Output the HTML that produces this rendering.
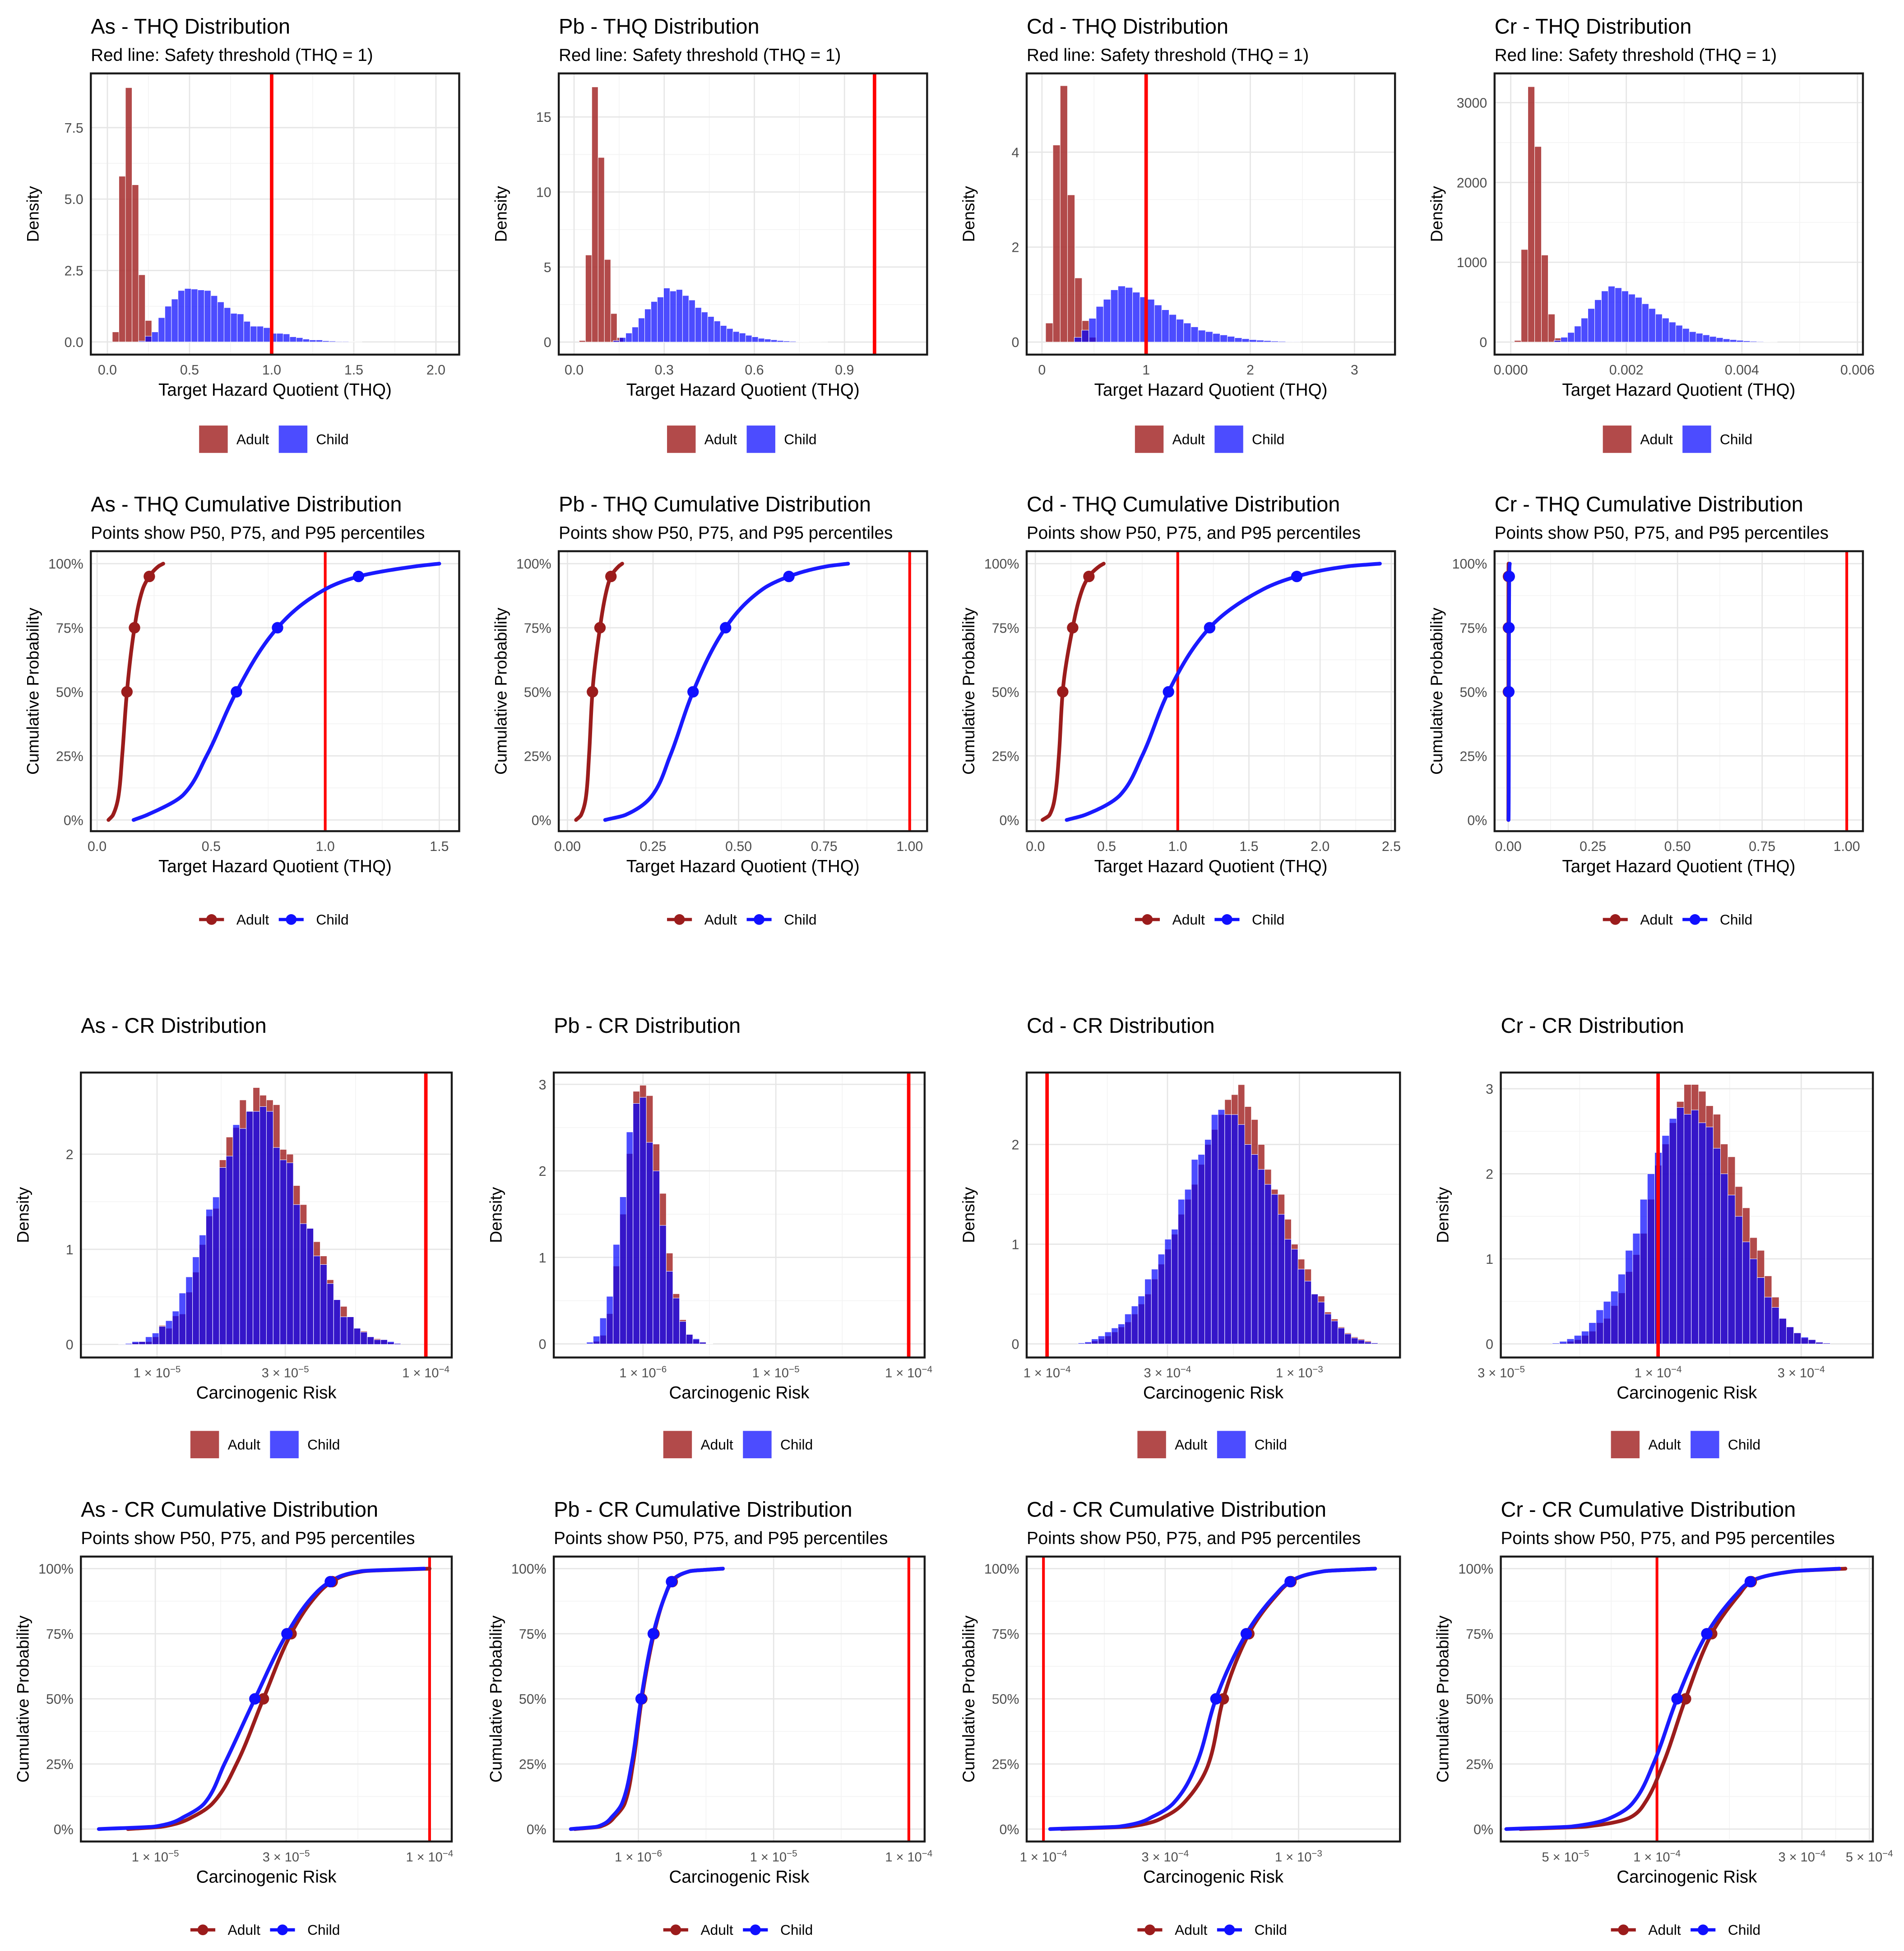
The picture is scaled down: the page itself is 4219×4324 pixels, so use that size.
<!DOCTYPE html>
<html><head><meta charset="utf-8"><style>
html,body{margin:0;padding:0;background:#fff;}
svg{display:block;font-family:"Liberation Sans",Arial,sans-serif;}
</style></head><body>
<svg id="chart" width="4219" height="4324" viewBox="0 0 1530 1568" preserveAspectRatio="none" xmlns="http://www.w3.org/2000/svg"></svg>
<script>
// ---------- Data ----------
const asThqBin = [0.03, 0.04];
const asThqAdult = [0.35,5.8,8.9,5.5,2.35,0.75];
const asThqChildBin = [0.19, 0.04];
const asThqChild = [0.03,0.2,0.35,0.85,1.25,1.5,1.8,1.87,1.85,1.82,1.8,1.62,1.4,1.2,1.0,0.98,0.72,0.55,0.55,0.5,0.3,0.3,0.28,0.18,0.15,0.1,0.07,0.07,0.04,0.03,0.02,0.02,0.01,0.005];
const pbThqBin = [0.017, 0.021];
const pbThqAdult = [0.1,5.8,17.0,12.3,5.5,1.9,0.3];
const pbThqChildBin = [0.13, 0.021];
const pbThqChild = [0.1,0.3,0.6,1.0,1.6,2.2,2.7,3.0,3.6,3.4,3.5,3.1,2.8,2.3,2.0,1.7,1.4,1.1,0.9,0.7,0.6,0.45,0.35,0.25,0.2,0.15,0.1,0.07,0.05,0.03,0.02,0.01,0.01,0.005];
const cdThqBin = [0.035, 0.07];
const cdThqAdult = [0.4,4.15,5.4,3.1,1.35,0.45,0.1];
const cdThqChildBin = [0.31, 0.07];
const cdThqChild = [0.1,0.25,0.5,0.75,0.9,1.1,1.18,1.15,1.05,0.95,0.9,0.78,0.68,0.58,0.48,0.4,0.32,0.25,0.22,0.18,0.15,0.12,0.09,0.07,0.05,0.04,0.03,0.02,0.015,0.01,0.01];
const crThqBin = [0.0000625, 0.000117];
const crThqAdult = [20,1160,3200,2450,1090,350,50];
const crThqChildBin = [0.00075, 0.000117];
const crThqChild = [20,60,120,200,300,420,530,640,700,680,640,600,560,480,420,350,300,250,210,170,130,110,90,70,55,40,30,22,15,10,7,5,3];

const thqProbGrid = [0,0.02,0.1,0.25,0.5,0.75,0.9,0.95,0.99,1];
const asThqCdfAdult = [0.05,0.07,0.095,0.11,0.131,0.164,0.2,0.229,0.27,0.29];
const asThqCdfChild = [0.16,0.22,0.38,0.48,0.611,0.791,1.0,1.146,1.4,1.5];
const pbThqCdfAdult = [0.025,0.04,0.055,0.063,0.073,0.095,0.115,0.127,0.15,0.16];
const pbThqCdfChild = [0.11,0.17,0.25,0.3,0.367,0.462,0.57,0.647,0.76,0.82];
const cdThqCdfAdult = [0.05,0.1,0.14,0.165,0.192,0.262,0.33,0.376,0.45,0.48];
const cdThqCdfChild = [0.22,0.35,0.6,0.75,0.935,1.224,1.6,1.836,2.2,2.42];
const crThqCdfAdult = [0.0002,0.00028,0.00035,0.0004,0.00045,0.00052,0.0006,0.00066,0.0008,0.0009];
const crThqCdfChild = [0.0008,0.001,0.0013,0.0015,0.0017,0.0021,0.0026,0.0029,0.0036,0.0045];
const pctProbs = [0.5,0.75,0.95];
const asThqPctAdult = [0.131,0.164,0.229];
const asThqPctChild = [0.611,0.791,1.146];
const pbThqPctAdult = [0.073,0.095,0.127];
const pbThqPctChild = [0.367,0.462,0.647];
const cdThqPctAdult = [0.192,0.262,0.376];
const cdThqPctChild = [0.935,1.224,1.836];
const crThqPctAdult = [0.00045,0.00052,0.00066];
const crThqPctChild = [0.0017,0.0021,0.0029];

const asCrBin = [-5.143, 0.025];
const asCrChild = [0.005,0.01,0.03,0.03,0.08,0.12,0.19,0.25,0.35,0.54,0.71,0.92,1.15,1.42,1.55,1.86,1.98,2.31,2.27,2.45,2.45,2.5,2.45,2.07,1.94,1.91,1.47,1.27,1.22,0.93,0.84,0.64,0.47,0.29,0.29,0.17,0.13,0.08,0.05,0.05,0.03,0.01];
const asCrAdult = [0,0.005,0.02,0.03,0.03,0.08,0.2,0.17,0.3,0.32,0.55,0.76,1.05,1.35,1.43,1.94,2.18,2.28,2.57,2.45,2.7,2.62,2.57,2.52,2.05,2.0,1.67,1.47,1.22,1.08,0.93,0.68,0.47,0.4,0.29,0.17,0.14,0.08,0.06,0.05,0.02,0.01];
const pbCrBin = [-6.425, 0.05];
const pbCrChild = [0.02,0.09,0.3,0.55,1.15,1.7,2.45,2.78,2.85,2.33,2.0,1.37,0.84,0.53,0.26,0.11,0.06,0.02,0.005];
const pbCrAdult = [0.0,0.03,0.1,0.35,0.9,1.5,2.2,2.92,2.99,2.87,2.31,1.74,1.05,0.58,0.28,0.11,0.05,0.02,0.005];
const cdCrBin = [-3.877, 0.0264];
const cdCrChild = [0.01,0.02,0.05,0.08,0.12,0.16,0.2,0.3,0.38,0.48,0.65,0.75,0.9,1.05,1.15,1.45,1.55,1.85,1.9,2.05,2.3,2.35,2.3,2.3,2.2,2.0,1.9,1.75,1.6,1.5,1.3,1.05,0.95,0.75,0.63,0.5,0.42,0.3,0.23,0.16,0.1,0.06,0.04,0.02,0.01];
const cdCrAdult = [0.0,0.01,0.03,0.05,0.08,0.12,0.17,0.22,0.3,0.4,0.5,0.65,0.8,0.95,1.1,1.3,1.45,1.6,1.8,2.0,2.15,2.3,2.45,2.5,2.6,2.38,2.25,2.0,1.75,1.55,1.5,1.25,1.0,0.85,0.75,0.5,0.48,0.32,0.25,0.17,0.11,0.07,0.05,0.03,0.01];
const crCrBin = [-4.353, 0.0244];
const crCrChild = [0.01,0.03,0.06,0.1,0.15,0.25,0.4,0.5,0.62,0.82,1.1,1.3,1.7,2.0,2.25,2.45,2.65,2.78,2.7,2.75,2.6,2.55,2.3,2.0,1.75,1.5,1.2,1.0,0.78,0.55,0.43,0.3,0.2,0.13,0.08,0.05,0.02,0.01];
const crCrAdult = [0.0,0.01,0.03,0.05,0.1,0.15,0.25,0.3,0.45,0.6,0.85,1.05,1.3,1.7,2.1,2.35,2.6,2.85,3.05,3.05,2.97,2.8,2.7,2.35,2.2,1.85,1.6,1.25,1.1,0.8,0.55,0.3,0.2,0.13,0.07,0.05,0.02,0.01];

const crProbGrid = [0,0.01,0.05,0.1,0.25,0.5,0.75,0.9,0.95,0.99,1];
const asCrCdfChild = [-5.206,-5.0,-4.89,-4.82,-4.748,-4.637,-4.52,-4.42,-4.362,-4.25,-4.02];
const asCrCdfAdult = [-5.1,-4.97,-4.858,-4.79,-4.704,-4.606,-4.505,-4.41,-4.355,-4.24,-4.0];
const pbCrCdfChild = [-6.5,-6.3,-6.19,-6.12,-6.05,-5.98,-5.89,-5.8,-5.755,-5.62,-5.375];
const pbCrCdfAdult = [-6.47,-6.28,-6.17,-6.1,-6.04,-5.975,-5.885,-5.8,-5.75,-5.62,-5.375];
const cdCrCdfChild = [-3.974,-3.7,-3.567,-3.49,-3.4,-3.324,-3.205,-3.09,-3.033,-2.9,-2.70];
const cdCrCdfAdult = [-3.93,-3.66,-3.52,-3.45,-3.353,-3.295,-3.195,-3.085,-3.03,-2.9,-2.70];
const crCrCdfChild = [-4.496,-4.28,-4.14,-4.08,-4.012,-3.934,-3.836,-3.74,-3.693,-3.55,-3.40];
const crCrCdfAdult = [-4.45,-4.23,-4.08,-4.04,-3.98,-3.906,-3.82,-3.73,-3.69,-3.55,-3.38];
const asCrPctAdult = [-4.606,-4.505,-4.355];
const asCrPctChild = [-4.637,-4.52,-4.362];
const pbCrPctAdult = [-5.975,-5.885,-5.75];
const pbCrPctChild = [-5.98,-5.89,-5.755];
const cdCrPctAdult = [-3.295,-3.195,-3.03];
const cdCrPctChild = [-3.324,-3.205,-3.033];
const crCrPctAdult = [-3.906,-3.82,-3.69];
const crCrPctChild = [-3.934,-3.836,-3.693];

const L3 = Math.log10(3), L5 = Math.log10(5);
const asThqHistXTicks = [0,0.5,1,1.5,2];   const asThqHistXLabels = ["0.0","0.5","1.0","1.5","2.0"];
const pbThqHistXTicks = [0,0.3,0.6,0.9];   const pbThqHistXLabels = ["0.0","0.3","0.6","0.9"];
const cdThqHistXTicks = [0,1,2,3];         const cdThqHistXLabels = ["0","1","2","3"];
const crThqHistXTicks = [0,0.002,0.004,0.006]; const crThqHistXLabels = ["0.000","0.002","0.004","0.006"];
const asThqHistYTicks = [0,2.5,5,7.5];     const asThqHistYLabels = ["0.0","2.5","5.0","7.5"];
const pbThqHistYTicks = [0,5,10,15];       const pbThqHistYLabels = ["0","5","10","15"];
const cdThqHistYTicks = [0,2,4];           const cdThqHistYLabels = ["0","2","4"];
const crThqHistYTicks = [0,1000,2000,3000];const crThqHistYLabels = ["0","1000","2000","3000"];
const asThqCdfXTicks = [0,0.5,1,1.5];      const asThqCdfXLabels = ["0.0","0.5","1.0","1.5"];
const pbThqCdfXTicks = [0,0.25,0.5,0.75,1];const pbThqCdfXLabels = ["0.00","0.25","0.50","0.75","1.00"];
const cdThqCdfXTicks = [0,0.5,1,1.5,2,2.5];const cdThqCdfXLabels = ["0.0","0.5","1.0","1.5","2.0","2.5"];
const crThqCdfXTicks = [0,0.25,0.5,0.75,1];const crThqCdfXLabels = ["0.00","0.25","0.50","0.75","1.00"];
const probTicks = [0,0.25,0.5,0.75,1];     const probLabels = ["0%","25%","50%","75%","100%"];
const asCrXTicks = [-5,-5+L3,-4];          const asCrXLabels = [["1","-5"],["3","-5"],["1","-4"]];
const pbCrXTicks = [-6,-5,-4];             const pbCrXLabels = [["1","-6"],["1","-5"],["1","-4"]];
const cdCrXTicks = [-4,-4+L3,-3];          const cdCrXLabels = [["1","-4"],["3","-4"],["1","-3"]];
const crCrXTicks = [-5+L3,-4,-4+L3];       const crCrXLabels = [["3","-5"],["1","-4"],["3","-4"]];
const crCrCdfXTicks = [-5+L5,-4,-4+L3,-4+L5]; const crCrCdfXLabels = [["5","-5"],["1","-4"],["3","-4"],["5","-4"]];
const asCrYTicks = [0,1,2];  const pbCrYTicks = [0,1,2,3]; const cdCrYTicks = [0,1,2]; const crCrYTicks = [0,1,2,3];

// ---------- Rendering ----------
const NS = "http://www.w3.org/2000/svg";
const svg = document.getElementById('chart');
function lin(v1,p1,v2,p2){const k=(p2-p1)/(v2-v1);return v=>p1+(v-v1)*k;}
function mk(tag, attrs, parent){const e=document.createElementNS(NS,tag);for(const k in attrs)e.setAttribute(k,attrs[k]);(parent||svg).appendChild(e);return e;}
const ADULT_FILL="rgba(165,42,42,0.85)", CHILD_FILL="rgba(0,0,255,0.7)";
const ADULT_LINE="#9b1c1c", CHILD_LINE="#1a1aff";

function txt(parent,x,y,s,size,fill,anchor,name){
  const t=mk('text',{x:x,y:y,'font-size':size,fill:fill,'text-anchor':anchor||'start'},parent);
  t.textContent=s;
  
  
  return t;
}
function sciLabel(parent,x,y,pair){
  const t=mk('text',{x:x,y:y,'font-size':10.5,fill:'#4d4d4d','text-anchor':'middle'},parent);
  
  
  const a=mk('tspan',{},t); a.textContent=pair[0]+" \u00d7 10";
  const b=mk('tspan',{dy:-4,'font-size':7.5},t); b.textContent=pair[1].replace('-','\u2212');
}
// monotone cubic (Fritsch-Carlson) of x as a function of p, sampled for drawing
function monoSamples(ps,xs){
  const n=ps.length, d=[], m=new Array(n);
  for(let i=0;i<n-1;i++) d.push((xs[i+1]-xs[i])/(ps[i+1]-ps[i]));
  m[0]=d[0]; m[n-1]=d[n-2];
  for(let i=1;i<n-1;i++){ if(d[i-1]*d[i]<=0) m[i]=0; else { const h0=ps[i]-ps[i-1],h1=ps[i+1]-ps[i]; m[i]=3*(h0+h1)/((2*h1+h0)/d[i-1]+(h1+2*h0)/d[i]); } }
  const out=[];
  for(let i=0;i<n-1;i++){
    const h=ps[i+1]-ps[i], steps=24;
    for(let s=0;s<steps;s++){
      const t=s/steps, t2=t*t, t3=t2*t;
      const x=(2*t3-3*t2+1)*xs[i]+(t3-2*t2+t)*h*m[i]+(-2*t3+3*t2)*xs[i+1]+(t3-t2)*h*m[i+1];
      out.push([ps[i]+t*h,x]);
    }
  }
  out.push([ps[n-1],xs[n-1]]);
  return out;
}

function panel(cfg){
  const g=mk('g',{});
  
  
  const [x0,x1,y0,y1]=cfg.box;
  const sx=cfg.sx, sy=cfg.sy;
  const grid=mk('g',{},g);
  
  
  const minor=(arr)=>{const m=[];for(let i=0;i<arr.length-1;i++)m.push((arr[i]+arr[i+1])/2);return m;};
  minor(cfg.xTicks).forEach(v=>{const p=sx(v);if(p>x0&&p<x1)mk('line',{x1:p,x2:p,y1:y0,y2:y1,stroke:'#f3f3f3','stroke-width':0.6},grid);});
  minor(cfg.yTicks).forEach(v=>{const p=sy(v);if(p>y0&&p<y1)mk('line',{x1:x0,x2:x1,y1:p,y2:p,stroke:'#f3f3f3','stroke-width':0.6},grid);});
  cfg.xTicks.forEach(v=>{const p=sx(v);if(p>=x0&&p<=x1)mk('line',{x1:p,x2:p,y1:y0,y2:y1,stroke:'#e6e6e6','stroke-width':1},grid);});
  cfg.yTicks.forEach(v=>{const p=sy(v);mk('line',{x1:x0,x2:x1,y1:p,y2:p,stroke:'#e6e6e6','stroke-width':1},grid);});
  const isCdf = cfg.type==='cdf';
  if(!isCdf){
    const drawHist=(bin,vals,fill,nm)=>{
      const hg=mk('g',{},g);
      
      
      vals.forEach((v,i)=>{
        if(v<=0)return;
        const a=sx(bin[0]+i*bin[1]), b=sx(bin[0]+(i+1)*bin[1]);
        const r=mk('rect',{x:a,y:sy(v),width:b-a,height:sy(0)-sy(v),fill:fill,stroke:'#fff','stroke-width':0.35},hg);
        
        
      });
    };
    drawHist(cfg.adultBin,cfg.adult,ADULT_FILL,'adult-histogram');
    drawHist(cfg.childBin,cfg.child,CHILD_FILL,'child-histogram');
  }
  const tl=mk('line',{x1:sx(cfg.threshold),x2:sx(cfg.threshold),y1:y0,y2:y1,stroke:'#ff0000','stroke-width':isCdf?2.2:2.8},g);
  
  
  if(isCdf){
    const line=(xs,col,nm)=>{
      const pts=monoSamples(cfg.grid,xs).map(q=>[sx(q[1]),sy(q[0])]);
      const d="M"+pts.map(p=>p[0].toFixed(2)+","+p[1].toFixed(2)).join(" L");
      const p=mk('path',{d:d,fill:'none',stroke:col,'stroke-width':3,'stroke-linejoin':'round','stroke-linecap':'round'},g);
      
      
    };
    line(cfg.adult,ADULT_LINE,'adult-cdf-line');
    line(cfg.child,CHILD_LINE,'child-cdf-line');
    const pts=(xs,col,nm)=>{xs.forEach((v,i)=>{
      const c=mk('circle',{cx:sx(v),cy:sy(pctProbs[i]),r:4.6,fill:col},g);
      
      
    });};
    pts(cfg.adultPct,ADULT_LINE,'adult-percentile-point');
    pts(cfg.childPct,'#1010ff','child-percentile-point');
  }
  const fr=mk('rect',{x:x0,y:y0,width:x1-x0,height:y1-y0,fill:'none',stroke:'#1a1a1a','stroke-width':1.6},g);
  
  
  cfg.xTicks.forEach((v,i)=>{
    if(cfg.log) sciLabel(g,sx(v),y1+16,cfg.xLabels[i]);
    else txt(g,sx(v),y1+16,cfg.xLabels[i],11,'#4d4d4d','middle','x-tick-label');
  });
  cfg.yTicks.forEach((v,i)=>{
    txt(g,x0-6,sy(v)+4,cfg.yLabels?cfg.yLabels[i]:String(v),11,'#4d4d4d','end','y-tick-label');
  });
  txt(g,x0,y0-32,cfg.title,17,'#000','start','panel-title');
  if(cfg.sub) txt(g,x0,y0-10,cfg.sub,14,'#000','start','panel-subtitle');
  txt(g,(x0+x1)/2,y1+33,cfg.xTitle,14,'#000','middle','x-axis-title');
  const yt=txt(g,0,0,cfg.yTitle,13.5,'#000','middle','y-axis-title');
  yt.setAttribute('transform','translate('+(x0-42)+','+((y0+y1)/2)+') rotate(-90)');
  const cx=(x0+x1)/2, ly=cfg.legendY;
  const lg=mk('g',{},g);
  
  
  const entry=(off,col,label,nm)=>{
    const eg=mk('g',{},lg);
    
    
    if(isCdf){
      mk('line',{x1:cx+off,x2:cx+off+20,y1:ly,y2:ly,stroke:col,'stroke-width':2.6},eg);
      mk('circle',{cx:cx+off+10,cy:ly,r:4.3,fill:col},eg);
    } else {
      mk('rect',{x:cx+off,y:ly-11,width:23,height:22,fill:col},eg);
    }
    txt(eg,cx+off+30,ly+4,label,11.5,'#000','start','legend-label');
  };
  entry(-61,isCdf?ADULT_LINE:ADULT_FILL,'Adult','legend-entry-adult');
  entry(3,isCdf?'#1010ff':CHILD_FILL,'Child','legend-entry-child');
}

const thqSub='Red line: Safety threshold (THQ = 1)';
const cdfSub='Points show P50, P75, and P95 percentiles';
const r1=[59,285], r2=[443,668], r3=[862,1091], r4=[1251,1480];
panel({name:'as-thq-histogram',type:'hist',title:'As - THQ Distribution',sub:thqSub,box:[73,369,r1[0],r1[1]],sx:lin(0,86.3,2,350.3),sy:lin(0,274.8,7.5,102.6),adultBin:asThqBin,adult:asThqAdult,childBin:asThqChildBin,child:asThqChild,threshold:1,xTicks:asThqHistXTicks,xLabels:asThqHistXLabels,yTicks:asThqHistYTicks,yLabels:asThqHistYLabels,xTitle:'Target Hazard Quotient (THQ)',yTitle:'Density',legendY:353});
panel({name:'pb-thq-histogram',type:'hist',title:'Pb - THQ Distribution',sub:thqSub,box:[449,745,r1[0],r1[1]],sx:lin(0,461.3,0.9,678.6),sy:lin(0,274.9,15,94),adultBin:pbThqBin,adult:pbThqAdult,childBin:pbThqChildBin,child:pbThqChild,threshold:1,xTicks:pbThqHistXTicks,xLabels:pbThqHistXLabels,yTicks:pbThqHistYTicks,yLabels:pbThqHistYLabels,xTitle:'Target Hazard Quotient (THQ)',yTitle:'Density',legendY:353});
panel({name:'cd-thq-histogram',type:'hist',title:'Cd - THQ Distribution',sub:thqSub,box:[825,1121,r1[0],r1[1]],sx:lin(0,837.3,3,1088.4),sy:lin(0,274.9,4,122.3),adultBin:cdThqBin,adult:cdThqAdult,childBin:cdThqChildBin,child:cdThqChild,threshold:1,xTicks:cdThqHistXTicks,xLabels:cdThqHistXLabels,yTicks:cdThqHistYTicks,yLabels:cdThqHistYLabels,xTitle:'Target Hazard Quotient (THQ)',yTitle:'Density',legendY:353});
panel({name:'cr-thq-histogram',type:'hist',title:'Cr - THQ Distribution',sub:thqSub,box:[1201,1497,r1[0],r1[1]],sx:lin(0,1214,0.006,1492.6),sy:lin(0,274.9,3000,82.5),adultBin:crThqBin,adult:crThqAdult,childBin:crThqChildBin,child:crThqChild,threshold:1,xTicks:crThqHistXTicks,xLabels:crThqHistXLabels,yTicks:crThqHistYTicks,yLabels:crThqHistYLabels,xTitle:'Target Hazard Quotient (THQ)',yTitle:'Density',legendY:353});
const sy2=lin(0,659,1,453);
panel({name:'as-thq-cdf',type:'cdf',title:'As - THQ Cumulative Distribution',sub:cdfSub,box:[73,369,r2[0],r2[1]],sx:lin(0,78,1.5,353),sy:sy2,grid:thqProbGrid,adult:asThqCdfAdult,child:asThqCdfChild,adultPct:asThqPctAdult,childPct:asThqPctChild,threshold:1,xTicks:asThqCdfXTicks,xLabels:asThqCdfXLabels,yTicks:probTicks,yLabels:probLabels,xTitle:'Target Hazard Quotient (THQ)',yTitle:'Cumulative Probability',legendY:739});
panel({name:'pb-thq-cdf',type:'cdf',title:'Pb - THQ Cumulative Distribution',sub:cdfSub,box:[449,745,r2[0],r2[1]],sx:lin(0,456,1,731),sy:sy2,grid:thqProbGrid,adult:pbThqCdfAdult,child:pbThqCdfChild,adultPct:pbThqPctAdult,childPct:pbThqPctChild,threshold:1,xTicks:pbThqCdfXTicks,xLabels:pbThqCdfXLabels,yTicks:probTicks,yLabels:probLabels,xTitle:'Target Hazard Quotient (THQ)',yTitle:'Cumulative Probability',legendY:739});
panel({name:'cd-thq-cdf',type:'cdf',title:'Cd - THQ Cumulative Distribution',sub:cdfSub,box:[825,1121,r2[0],r2[1]],sx:lin(0,832,2.5,1118),sy:sy2,grid:thqProbGrid,adult:cdThqCdfAdult,child:cdThqCdfChild,adultPct:cdThqPctAdult,childPct:cdThqPctChild,threshold:1,xTicks:cdThqCdfXTicks,xLabels:cdThqCdfXLabels,yTicks:probTicks,yLabels:probLabels,xTitle:'Target Hazard Quotient (THQ)',yTitle:'Cumulative Probability',legendY:739});
panel({name:'cr-thq-cdf',type:'cdf',title:'Cr - THQ Cumulative Distribution',sub:cdfSub,box:[1201,1497,r2[0],r2[1]],sx:lin(0,1212,1,1484),sy:sy2,grid:thqProbGrid,adult:crThqCdfAdult,child:crThqCdfChild,adultPct:crThqPctAdult,childPct:crThqPctChild,threshold:1,xTicks:crThqCdfXTicks,xLabels:crThqCdfXLabels,yTicks:probTicks,yLabels:probLabels,xTitle:'Target Hazard Quotient (THQ)',yTitle:'Cumulative Probability',legendY:739});
panel({name:'as-cr-histogram',type:'hist',log:true,title:'As - CR Distribution',box:[65,363,r3[0],r3[1]],sx:lin(-5,126.2,-4,342.2),sy:lin(0,1080.5,2,927.6),adultBin:asCrBin,adult:asCrAdult,childBin:asCrBin,child:asCrChild,threshold:-4,xTicks:asCrXTicks,xLabels:asCrXLabels,yTicks:asCrYTicks,xTitle:'Carcinogenic Risk',yTitle:'Density',legendY:1161});
panel({name:'pb-cr-histogram',type:'hist',log:true,title:'Pb - CR Distribution',box:[445,743,r3[0],r3[1]],sx:lin(-6,516.7,-4,730.2),sy:lin(0,1080.1,3,871.5),adultBin:pbCrBin,adult:pbCrAdult,childBin:pbCrBin,child:pbCrChild,threshold:-4,xTicks:pbCrXTicks,xLabels:pbCrXLabels,yTicks:pbCrYTicks,xTitle:'Carcinogenic Risk',yTitle:'Density',legendY:1161});
panel({name:'cd-cr-histogram',type:'hist',log:true,title:'Cd - CR Distribution',box:[825,1125,r3[0],r3[1]],sx:lin(-4,841.4,-3,1044.2),sy:lin(0,1080.1,2,919.8),adultBin:cdCrBin,adult:cdCrAdult,childBin:cdCrBin,child:cdCrChild,threshold:-4,xTicks:cdCrXTicks,xLabels:cdCrXLabels,yTicks:cdCrYTicks,xTitle:'Carcinogenic Risk',yTitle:'Density',legendY:1161});
panel({name:'cr-cr-histogram',type:'hist',log:true,title:'Cr - CR Distribution',box:[1206,1505,r3[0],r3[1]],sx:lin(-4,1332.4,-4+L3,1447.4),sy:lin(0,1080.1,3,875),adultBin:crCrBin,adult:crCrAdult,childBin:crCrBin,child:crCrChild,threshold:-4,xTicks:crCrXTicks,xLabels:crCrXLabels,yTicks:crCrYTicks,xTitle:'Carcinogenic Risk',yTitle:'Density',legendY:1161});
const sy4=lin(0,1470,1,1260.7);
panel({name:'as-cr-cdf',type:'cdf',log:true,title:'As - CR Cumulative Distribution',sub:cdfSub,box:[65,363,r4[0],r4[1]],sx:lin(-5,124.8,-4,345.2),sy:sy4,grid:crProbGrid,adult:asCrCdfAdult,child:asCrCdfChild,adultPct:asCrPctAdult,childPct:asCrPctChild,threshold:-4,xTicks:asCrXTicks,xLabels:asCrXLabels,yTicks:probTicks,yLabels:probLabels,xTitle:'Carcinogenic Risk',yTitle:'Cumulative Probability',legendY:1551});
panel({name:'pb-cr-cdf',type:'cdf',log:true,title:'Pb - CR Cumulative Distribution',sub:cdfSub,box:[445,743,r4[0],r4[1]],sx:lin(-6,513,-4,730.3),sy:sy4,grid:crProbGrid,adult:pbCrCdfAdult,child:pbCrCdfChild,adultPct:pbCrPctAdult,childPct:pbCrPctChild,threshold:-4,xTicks:pbCrXTicks,xLabels:pbCrXLabels,yTicks:probTicks,yLabels:probLabels,xTitle:'Carcinogenic Risk',yTitle:'Cumulative Probability',legendY:1551});
panel({name:'cd-cr-cdf',type:'cdf',log:true,title:'Cd - CR Cumulative Distribution',sub:cdfSub,box:[825,1125,r4[0],r4[1]],sx:lin(-4,838.5,-3,1043.5),sy:sy4,grid:crProbGrid,adult:cdCrCdfAdult,child:cdCrCdfChild,adultPct:cdCrPctAdult,childPct:cdCrPctChild,threshold:-4,xTicks:cdCrXTicks,xLabels:cdCrXLabels,yTicks:probTicks,yLabels:probLabels,xTitle:'Carcinogenic Risk',yTitle:'Cumulative Probability',legendY:1551});
panel({name:'cr-cr-cdf',type:'cdf',log:true,title:'Cr - CR Cumulative Distribution',sub:cdfSub,box:[1206,1505,r4[0],r4[1]],sx:lin(-4,1331.5,-4+L3,1448),sy:sy4,grid:crProbGrid,adult:crCrCdfAdult,child:crCrCdfChild,adultPct:crCrPctAdult,childPct:crCrPctChild,threshold:-4,xTicks:crCrCdfXTicks,xLabels:crCrCdfXLabels,yTicks:probTicks,yLabels:probLabels,xTitle:'Carcinogenic Risk',yTitle:'Cumulative Probability',legendY:1551});
</script>
</body></html>
